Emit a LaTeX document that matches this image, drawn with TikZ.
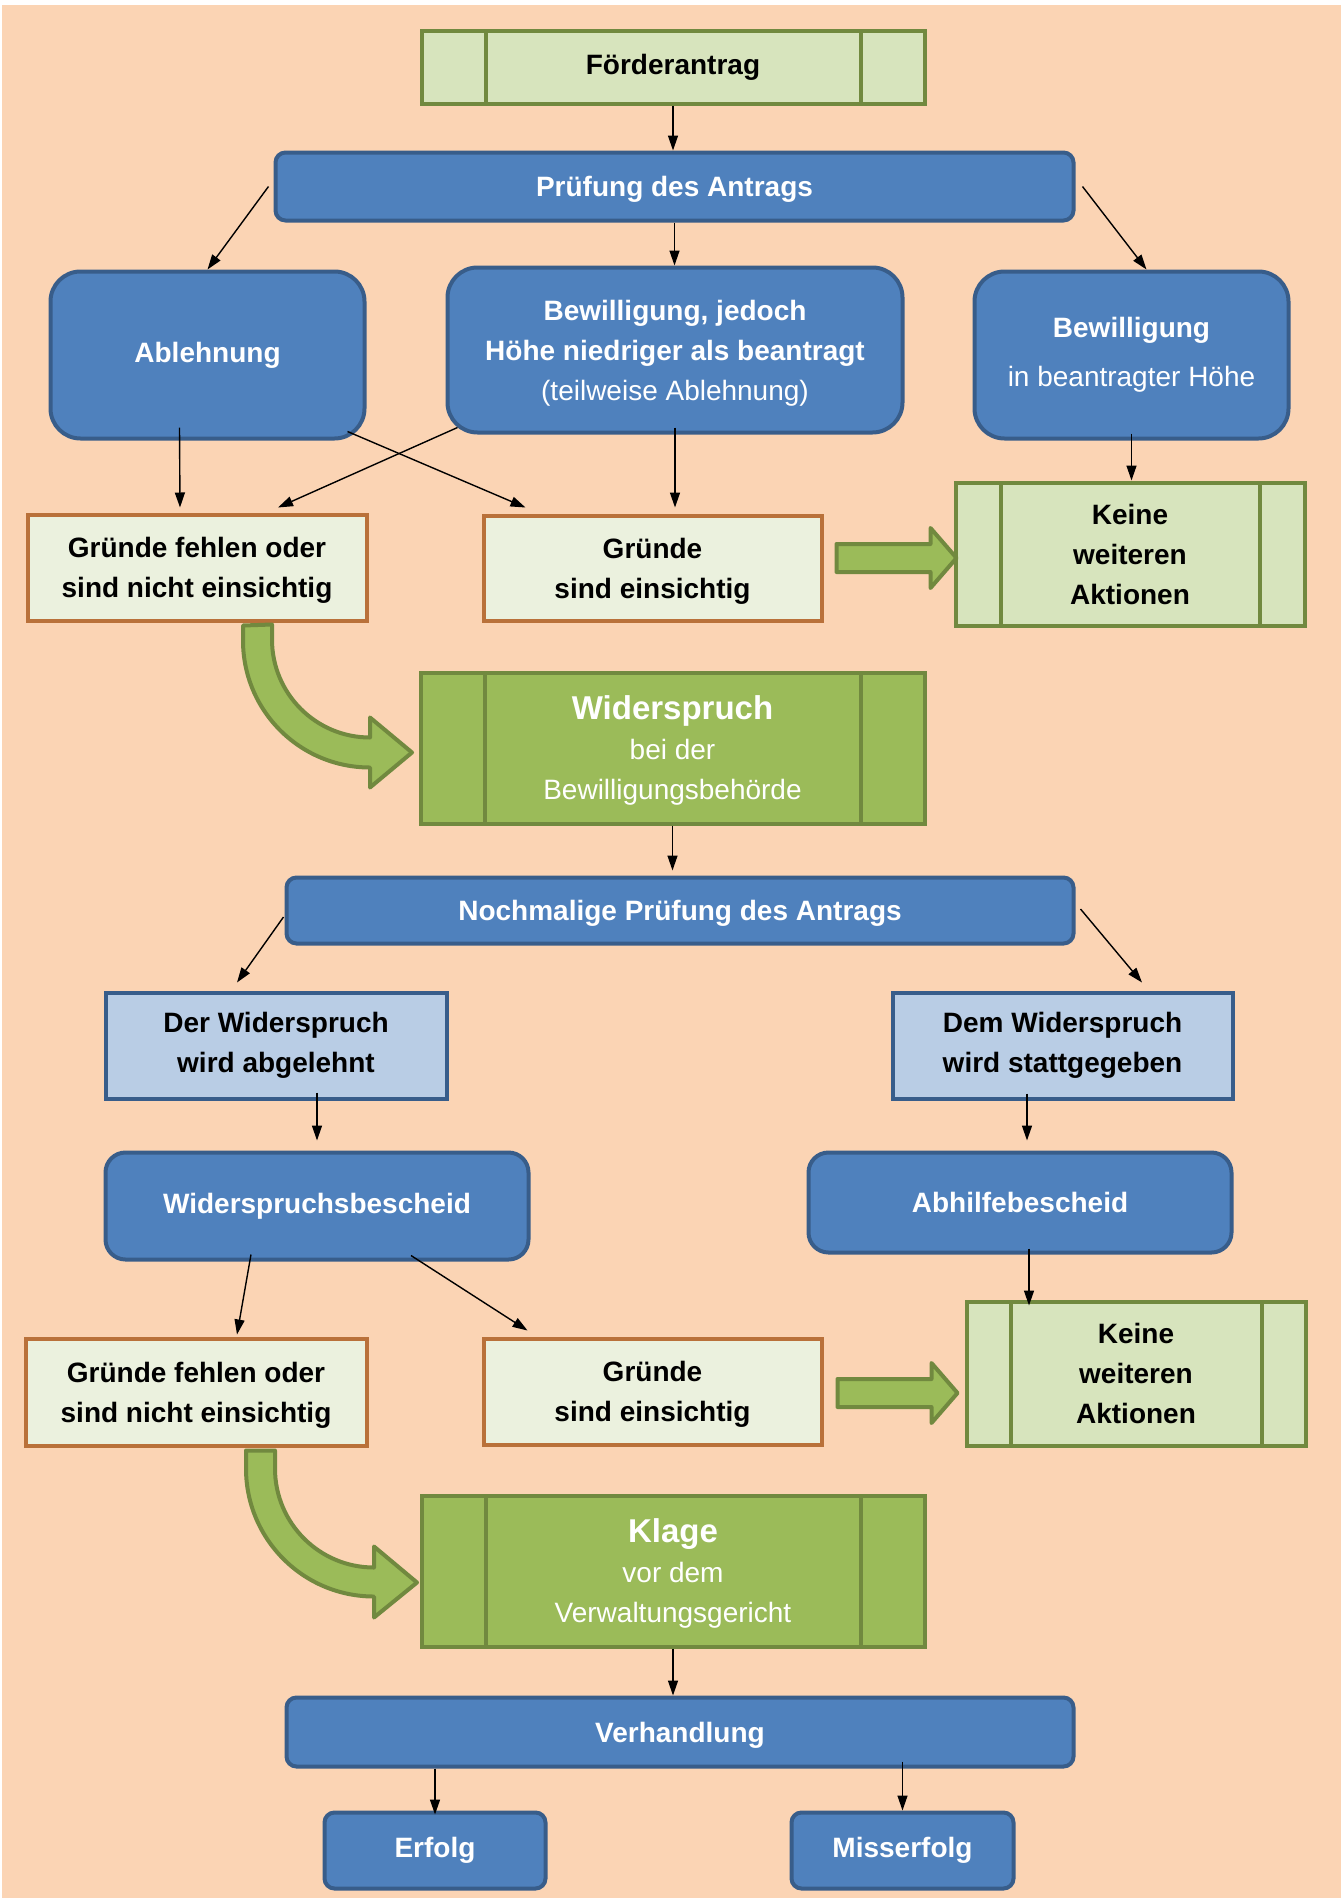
\documentclass[tikz,border=0pt]{standalone}
\usepackage{fontspec}
\setmainfont{Liberation Sans}
\usetikzlibrary{arrows.meta,calc}

\definecolor{peach}{HTML}{FBD4B4}
\definecolor{bluefill}{HTML}{4F81BD}
\definecolor{blueline}{HTML}{385D8A}
\definecolor{lightblue}{HTML}{B9CDE5}
\definecolor{palegreen}{HTML}{D7E4BD}
\definecolor{greenfill}{HTML}{9BBB59}
\definecolor{greenline}{HTML}{71893F}
\definecolor{ivory}{HTML}{EBF1DE}
\definecolor{rust}{HTML}{B9713A}

\tikzset{
  box/.style={rectangle, line width=4pt, align=center, inner sep=0pt,
    font=\fontsize{28}{40}\selectfont\bfseries},
  bluebox/.style={box, draw=blueline, fill=bluefill, text=white, rounded corners=#1},
  bluebox/.default=10pt,
  paleblue/.style={box, draw=blueline, fill=lightblue},
  reason/.style={box, draw=rust, fill=ivory, text depth=0pt},
  proc/.style={box, draw=greenline, path picture={
      \draw[greenline, line width=4pt]
        ([xshift=#1]path picture bounding box.north west) -- ([xshift=#1]path picture bounding box.south west)
        ([xshift=-#1]path picture bounding box.north east) -- ([xshift=-#1]path picture bounding box.south east);}},
  arr/.style={-{Triangle[length=15pt,width=10pt]}, line width=1.4pt},
  fatarrow/.style={draw=greenline, fill=greenfill, line width=4pt, line join=round}
}

\begin{document}
\begin{tikzpicture}[x=1pt, y=-1pt]
  % background
  \useasboundingbox (0,0) rectangle (1341,1898);
  \fill[peach] (0,0) rectangle (1341,1898);
  \fill[white] (0,0) rectangle (1341,5);
  \fill[white] (0,0) rectangle (2,1898);

  % first round
  \node[proc=64pt, fill=palegreen, minimum width=503pt, minimum height=73pt] (antrag) at (673,67) {Förderantrag};
  \node[bluebox, text depth=0pt, minimum width=798pt, minimum height=68pt] (pruef) at (674.5,186.5) {Prüfung des Antrags};
  \node[bluebox=30pt, minimum width=314pt, minimum height=167pt] (abl) at (207.5,355) {Ablehnung};
  \node[bluebox=30pt, text depth=0pt, minimum width=455pt, minimum height=165pt] (teilbew) at (675,350)
    {Bewilligung, jedoch\\Höhe niedriger als beantragt\\{\mdseries(teilweise Ablehnung)}};
  \node[bluebox=30pt, minimum width=314pt, minimum height=167pt] (vollbew) at (1131.5,355)
    {Bewilligung\\[9pt]{\mdseries in beantragter Höhe}};
  \node[reason, minimum width=339pt, minimum height=106pt] (grund1) at (197,567.5) {Gründe fehlen oder\\sind nicht einsichtig};
  \node[reason, minimum width=338pt, minimum height=105pt] (einsicht1) at (652.5,568) {Gründe\\sind einsichtig};
  \node[proc=45pt, fill=palegreen, minimum width=349pt, minimum height=143pt] (keine1) at (1130,554) {Keine\\weiteren\\Aktionen};

  % objection
  \node[proc=64pt, fill=greenfill, text=white, text depth=0pt, minimum width=504pt, minimum height=151pt] (wider) at (672.5,748)
    {{\fontsize{33}{40}\selectfont Widerspruch}\\{\mdseries bei der}\\{\mdseries Bewilligungsbehörde}};
  \node[bluebox, text depth=0pt, minimum width=787pt, minimum height=66pt] (nochmal) at (680,910.5) {Nochmalige Prüfung des Antrags};
  \node[paleblue, minimum width=341pt, minimum height=106pt] (abgelehnt) at (276,1045.5) {Der Widerspruch\\wird abgelehnt};
  \node[paleblue, minimum width=340pt, minimum height=106pt] (stattgegeben) at (1062.5,1045.5) {Dem Widerspruch\\wird stattgegeben};
  \node[bluebox=20pt, minimum width=423pt, minimum height=107pt] (wbescheid) at (317,1206) {Widerspruchsbescheid};
  \node[bluebox=20pt, minimum width=423pt, minimum height=100pt] (abhilfe) at (1020,1202.5) {Abhilfebescheid};
  \node[reason, minimum width=341pt, minimum height=107pt] (grund2) at (196,1392) {Gründe fehlen oder\\sind nicht einsichtig};
  \node[reason, minimum width=338pt, minimum height=106pt] (einsicht2) at (652.5,1391.5) {Gründe\\sind einsichtig};
  \node[proc=44pt, fill=palegreen, minimum width=339pt, minimum height=144pt] (keine2) at (1136,1373.5) {Keine\\weiteren\\Aktionen};

  % court
  \node[proc=64pt, fill=greenfill, text=white, text depth=0pt, minimum width=503pt, minimum height=151pt] (klage) at (673,1571)
    {{\fontsize{33}{40}\selectfont Klage}\\{\mdseries vor dem}\\{\mdseries Verwaltungsgericht}};
  \node[bluebox, text depth=0pt, minimum width=787pt, minimum height=69pt] (verhandlung) at (680,1732) {Verhandlung};
  \node[bluebox, minimum width=221pt, minimum height=76pt] (erfolg) at (435,1850.5) {Erfolg};
  \node[bluebox, minimum width=222pt, minimum height=76pt] (misserfolg) at (902.5,1850.5) {Misserfolg};

  % thin arrows
  \draw[arr] (antrag.south) -- (antrag.south |- pruef.north);
  \draw[arr] ([xshift=-5pt]pruef.west) -- (abl.north);
  \draw[arr] (pruef.south) -- (pruef.south |- teilbew.north);
  \draw[arr] ([xshift=7pt]pruef.east) -- ([xshift=15pt]vollbew.north);
  \draw[arr] ([shift={(-28,-13)}]abl.south) -- ([shift={(-17,-5)}]grund1.north);
  \draw[arr] ([shift={(-19,-9)}]abl.south east) -- ([shift={(44,-6)}]einsicht1.north west);
  \draw[arr] ([shift={(12,-7)}]teilbew.south west) -- ([shift={(81,-5)}]grund1.north);
  \draw[arr] ([yshift=7pt]teilbew.south) -- ([shift={(22.5,-6)}]einsicht1.north);
  \draw[arr] ([yshift=7pt]vollbew.south) -- (vollbew.south |- keine1.north);
  \draw[arr, shorten >=5pt] (wider.south) -- (wider.south |- nochmal.north);
  \draw[arr] ([shift={(-1,6.5)}]nochmal.west) -- ([shift={(-39,-8)}]abgelehnt.north);
  \draw[arr] ([shift={(5,-1.5)}]nochmal.east) -- ([shift={(79.5,-8)}]stattgegeben.north);
  \draw[arr] ([shift={(41,-8)}]abgelehnt.south) -- ([yshift=10pt]wbescheid.north);
  \draw[arr] ([shift={(-35.5,-7)}]stattgegeben.south) -- ([shift={(7,-10)}]abhilfe.north);
  \draw[arr] ([shift={(-66,-7)}]wbescheid.south) -- ([shift={(41,-2)}]grund2.north);
  \draw[arr] ([shift={(94,-6)}]wbescheid.south) -- ([shift={(46,-6)}]einsicht2.north west);
  \draw[arr] ([shift={(9,-6)}]abhilfe.south) -- ([shift={(-107,6)}]keine2.north);
  \draw[arr] (klage.south) -- (klage.south |- verhandlung.north);
  \draw[arr, shorten >=-4pt] (verhandlung.south -| erfolg.north) -- (erfolg.north);
  \draw[arr, shorten <=-7pt] (verhandlung.south -| misserfolg.north) -- (misserfolg.north);

  % block arrows
  \draw[fatarrow] ([shift={(13,-24)}]einsicht1.east) -- ++(94,0) -- ++(0,-16) -- ++(26,30) -- ++(-26,30) -- ++(0,-16) -- ++(-94,0) -- cycle;
  \draw[fatarrow] ([shift={(14,-12.5)}]einsicht2.east) -- ++(94,0) -- ++(0,-16) -- ++(26,30) -- ++(-26,30) -- ++(0,-16) -- ++(-94,0) -- cycle;
  \draw[fatarrow] ([shift={(46,3)}]grund1.south) -- ++(0,15) arc[start angle=180, end angle=90, radius=127]
    -- ++(0,20) -- ++(42,-35) -- ++(-42,-35) -- ++(0,20) arc[start angle=90, end angle=180, radius=98] -- ++(0,-15) -- cycle;
  \draw[fatarrow] ([shift={(50,3)}]grund2.south) -- ++(0,18) arc[start angle=180, end angle=90, radius=128]
    -- ++(0,21) -- ++(43,-35) -- ++(-43,-36) -- ++(0,21) arc[start angle=90, end angle=180, radius=99] -- ++(0,-18) -- cycle;
\end{tikzpicture}
\end{document}
